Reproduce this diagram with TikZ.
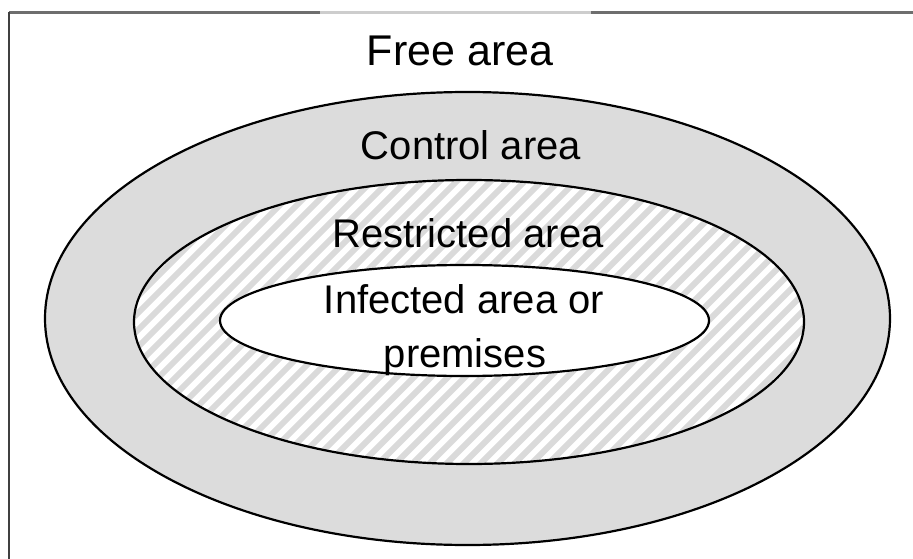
\documentclass[tikz,border=0pt]{standalone}
\usepackage{fontspec}
\setmainfont{Liberation Sans}
\begin{document}
\begin{tikzpicture}[x=1pt,y=-1pt]
\definecolor{ringgray}{RGB}{220,220,220}
\definecolor{hatchgray}{RGB}{218,218,218}
\definecolor{framegray}{RGB}{110,110,110}
\definecolor{framelight}{RGB}{205,205,205}
\tikzset{
  zone/.style={draw=black, line width=2.2pt},
  lbl/.style={anchor=base, inner sep=0pt, font=\fontsize{40}{50}\selectfont},
}
\useasboundingbox (0,0) rectangle (913,559);
\fill[white] (0,0) rectangle (913,559);
% frame
\draw[framegray, line width=3pt] (9,13) -- (320,13);
\draw[framelight, line width=3pt] (320,13) -- (591,13);
\draw[framegray, line width=3pt] (591,13) -- (913,13);
\draw[black!75, line width=2pt] (9,12) -- (9,559);
% outer ring
\fill[ringgray] (467.5,318.5) ellipse [x radius=422.5, y radius=226.5];
% restricted area hatch
\begin{scope}
  \clip (469,322) ellipse [x radius=335, y radius=142];
  \fill[white] (469,322) ellipse [x radius=335, y radius=142];
  \foreach \i in {-45,...,45}
    \draw[hatchgray, line width=6pt] ({469+\i*17-200},{322+200}) -- ++(400,-400);
\end{scope}
\draw[zone] (467.5,318.5) ellipse [x radius=422.5, y radius=226.5];
\draw[zone] (469,322) ellipse [x radius=335, y radius=142];
\draw[zone, fill=white] (464.5,320.5) ellipse [x radius=244.5, y radius=55.5];
% labels
\node[lbl, font=\fontsize{43}{50}\selectfont] (free) at (460,66) {Free area};
\node[lbl] (control) at (471,160) {Control area};
\node[lbl] (restricted) at (468,247) {Restricted area};
\node[lbl] (infected) at (464,313) {Infected area or};
\node[lbl] (premises) at (465,367) {premises};
\end{tikzpicture}
\end{document}
